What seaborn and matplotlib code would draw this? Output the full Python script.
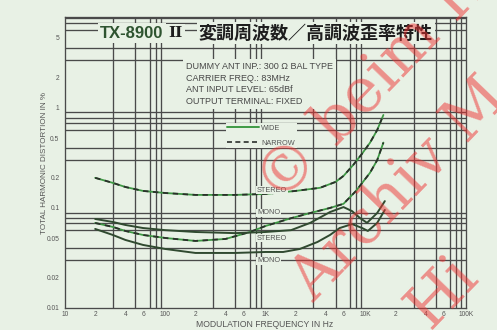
import matplotlib
matplotlib.use("Agg")
import matplotlib.pyplot as plt
import pandas as pd
import seaborn as sns
from matplotlib.lines import Line2D
from matplotlib.ticker import FixedLocator, FixedFormatter, NullFormatter, LogLocator

# ---- measured THD (%) versus modulation frequency (Hz) ----
freq_narrow_stereo = [20, 30, 40, 60, 100, 200, 500, 1000, 2000, 3500, 5000, 6000, 7500, 9000, 11000, 13000, 15000]
thd_narrow_stereo = [0.200, 0.178, 0.162, 0.148, 0.141, 0.135, 0.135, 0.138, 0.148, 0.159, 0.182, 0.209, 0.269, 0.339, 0.447, 0.600, 0.85]

freq_narrow_mono = [20, 30, 40, 60, 100, 200, 400, 700, 1000, 1800, 2800, 4400, 6000, 8000, 11000, 13000, 15000]
thd_narrow_mono = [0.0708, 0.0646, 0.0589, 0.0537, 0.0501, 0.0468, 0.049, 0.0575, 0.066, 0.079, 0.089, 0.100, 0.110, 0.148, 0.224, 0.30, 0.45]

freq_wide_stereo = [20, 30, 40, 60, 100, 200, 500, 1000, 1800, 2800, 4400, 6000, 7300, 8800, 10300, 13000, 15500]
thd_wide_stereo = [0.0776, 0.0724, 0.0676, 0.063, 0.060, 0.0575, 0.056, 0.0575, 0.060, 0.071, 0.091, 0.102, 0.093, 0.079, 0.071, 0.089, 0.117]

freq_wide_mono = [20, 30, 40, 60, 100, 200, 500, 1000, 1500, 2200, 3300, 4400, 5500, 7300, 9200, 10500, 13000, 15500]
thd_wide_mono = [0.0617, 0.0537, 0.0479, 0.0427, 0.0389, 0.0355, 0.0355, 0.0363, 0.0363, 0.0389, 0.0457, 0.0537, 0.063, 0.069, 0.063, 0.0589, 0.0708, 0.0955]

x_ticks = [10, 20, 40, 60, 100, 200, 400, 600, 1000, 2000, 4000, 6000, 10000, 20000, 40000, 60000, 100000]
x_tick_labels = ["10", "2", "4", "6", "100", "2", "4", "6", "1K", "2", "4", "6", "10K", "2", "4", "6", "100K"]
y_ticks = [0.01, 0.02, 0.05, 0.1, 0.2, 0.5, 1, 2, 5]
y_tick_labels = ["0.01", "0.02", "0.05", "0.1", "0.2", "0.5", "1", "2", "5"]

conditions = ["DUMMY ANT INP.: 300 Ω BAL TYPE",
              "CARRIER FREQ.: 83MHz",
              "ANT INPUT LEVEL: 65dBf",
              "OUTPUT TERMINAL: FIXED"]

PAPER = "#e8f1e5"
GRID = "#4a4a4a"
INK = "#2b2f2b"
GREEN = "#3f9a45"
TEXT = "#555555"

sns.set_style("white")
plt.rcParams["font.family"] = ["Liberation Sans", "DejaVu Sans"]

W, H = 497, 330
fig = plt.figure(figsize=(W / 100, H / 100), dpi=100, facecolor=PAPER)


def fx(px):
    return px / W


def fy(py):
    return 1 - py / H


ax = fig.add_axes([fx(65), fy(308), fx(466) - fx(65), fy(17) - fy(308)])
ax.set_facecolor(PAPER)
ax.set_xscale("log")
ax.set_yscale("log")
ax.set_xlim(10, 100000)
ax.set_ylim(0.01, 8.1)

# full log grid: every 1..9 of each decade
ax.xaxis.set_minor_locator(LogLocator(base=10, subs=range(1, 10), numticks=30))
ax.yaxis.set_minor_locator(LogLocator(base=10, subs=range(1, 10), numticks=30))
ax.xaxis.set_minor_formatter(NullFormatter())
ax.yaxis.set_minor_formatter(NullFormatter())
ax.grid(which="minor", color=GRID, lw=0.95)
ax.grid(which="major", visible=False)
ax.xaxis.set_major_locator(FixedLocator(x_ticks))
ax.xaxis.set_major_formatter(FixedFormatter(x_tick_labels))
ax.yaxis.set_major_locator(FixedLocator(y_ticks))
ax.yaxis.set_major_formatter(FixedFormatter(y_tick_labels))
ax.tick_params(which="minor", length=0)
ax.tick_params(which="major", width=0.6, color=GRID, labelsize=4.8, labelcolor=TEXT)
ax.tick_params(axis="y", which="major", length=3, pad=1)
ax.tick_params(axis="x", which="major", length=1.5, pad=0.5)
for s in ax.spines.values():
    s.set_color(GRID)
    s.set_linewidth(0.95)

# ---- curves ----
def curve(freq, thd, dashed):
    d = pd.DataFrame({"f": freq, "thd": thd})
    if dashed:
        sns.lineplot(data=d, x="f", y="thd", ax=ax, color=GREEN, lw=1.3,
                     estimator=None, sort=False, zorder=4)
        sns.lineplot(data=d, x="f", y="thd", ax=ax, color=INK, lw=1.3,
                     linestyle=(0, (3, 2.5)), estimator=None, sort=False, zorder=5)
    else:
        sns.lineplot(data=d, x="f", y="thd", ax=ax, color="#304a30", lw=1.4,
                     estimator=None, sort=False, zorder=5)


curve(freq_narrow_stereo, thd_narrow_stereo, True)
curve(freq_narrow_mono, thd_narrow_mono, True)
curve(freq_wide_stereo, thd_wide_stereo, False)
curve(freq_wide_mono, thd_wide_mono, False)
ax.set_xlabel("")
ax.set_ylabel("")

# curve tags
tag_kw = dict(fontsize=5.3, color=TEXT, ha="left", va="center",
              bbox=dict(boxstyle="square,pad=0.1", fc=PAPER, ec="none"), zorder=6)
fig.text(fx(257), fy(190), "STEREO", **tag_kw)
fig.text(fx(257), fy(213), "MONO", **tag_kw)
fig.text(fx(257), fy(238), "STEREO", **tag_kw)
fig.text(fx(257), fy(261), "MONO", **tag_kw)

# legend
handles = [Line2D([], [], color=GREEN, lw=1.4),
           Line2D([], [], color=INK, lw=1.2, linestyle=(0, (3, 2)))]
leg = ax.legend(handles, ["WIDE", "NARROW"], loc="upper left",
                bbox_to_anchor=(fx(226), fy(123)), bbox_transform=fig.transFigure,
                fontsize=5.3, handlelength=4.3, handletextpad=0.3, labelspacing=1.1,
                borderpad=0.2, borderaxespad=0, frameon=True, fancybox=False)
leg.get_frame().set_facecolor(PAPER)
leg.get_frame().set_edgecolor("none")
leg.get_frame().set_alpha(1)
for t in leg.get_texts():
    t.set_color(TEXT)

# measurement conditions
fig.text(fx(186), fy(62), "\n".join(conditions), fontsize=6.5, color="#474747",
         ha="left", va="top", linespacing=1.38,
         bbox=dict(boxstyle="square,pad=0.3", fc=PAPER, ec="none"), zorder=6)

# title
fig.text(fx(100), fy(33), "TX-8900", fontsize=12, fontweight="bold",
         color="#2e5430", ha="left", va="center", family=["Liberation Sans"],
         bbox=dict(boxstyle="square,pad=0.15", fc=PAPER, ec="none"), zorder=6)
fig.text(fx(168), fy(33), "II", fontsize=11, fontweight="bold",
         color="#1e1e1e", ha="left", va="center", family=["DejaVu Serif"],
         bbox=dict(boxstyle="square,pad=0.15", fc=PAPER, ec="none"), zorder=6)
fig.text(fx(199), fy(33), "変調周波数／高調波歪率特性", fontsize=13,
         fontweight="bold", color="#1e1e1e", ha="left", va="center",
         family=["Noto Sans CJK JP", "DejaVu Sans"],
         bbox=dict(boxstyle="square,pad=0.1", fc=PAPER, ec="none"), zorder=6)

# axis titles
fig.text(fx(45), fy(163), "TOTAL HARMONIC DISTORTION IN %", rotation=90,
         fontsize=5.8, color=TEXT, ha="center", va="center")
fig.text(fx(265), fy(324.5), "MODULATION FREQUENCY IN Hz", fontsize=6.2,
         color=TEXT, ha="center", va="center")

# archive stamp
stamp_kw = dict(fontsize=44, color="#f03030", alpha=0.5, rotation=46,
                rotation_mode="anchor", ha="left", va="baseline",
                family=["DejaVu Serif"], zorder=10)
fig.text(fx(280), fy(205), "© beim H", **stamp_kw)
fig.text(fx(314), fy(303), "Archiv M", **stamp_kw)
fig.text(fx(430), fy(330), "Hi", **stamp_kw)

fig.savefig("out.png", dpi=100, facecolor=PAPER)
